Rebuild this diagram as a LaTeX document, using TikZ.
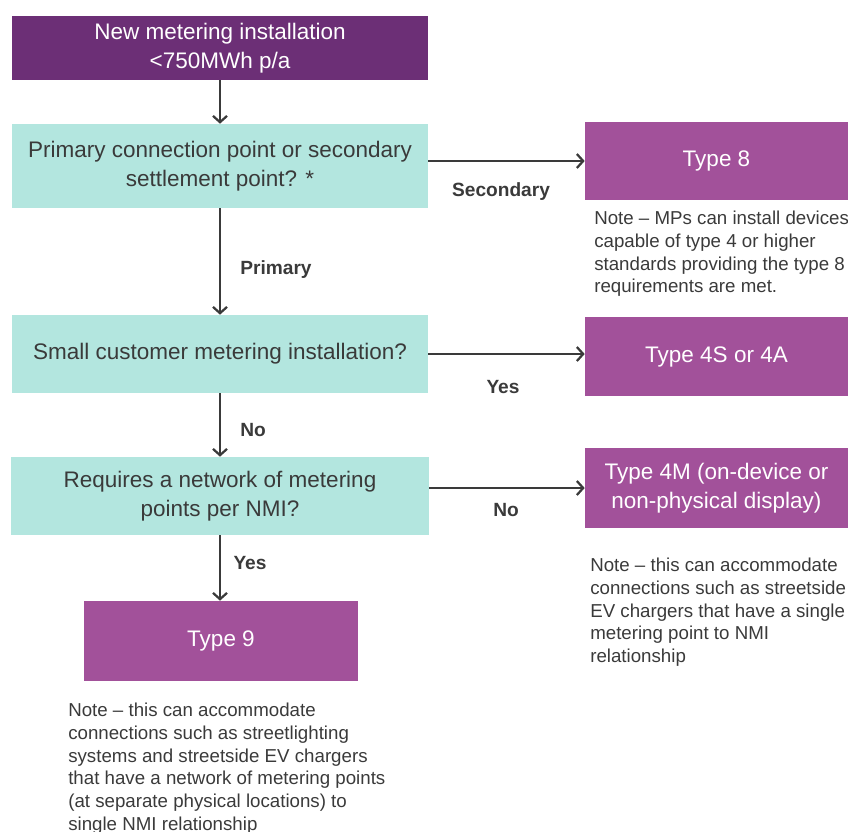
\documentclass[tikz,border=0pt]{standalone}
\usepackage{fontspec}
\setmainfont{Liberation Sans}
\usetikzlibrary{arrows.meta,positioning}
\definecolor{deeppurple}{HTML}{6C2F76}
\definecolor{midpurple}{HTML}{A2519A}
\definecolor{paleteal}{HTML}{B3E6DF}
\definecolor{inkgrey}{HTML}{3A3A3A}

\begin{document}
\begin{tikzpicture}[x=0.025cm,y=-0.025cm,
 question/.style={fill=paleteal,text=inkgrey,minimum width=10.4cm,minimum height=1.95cm,align=center,inner sep=2pt,font=\fontsize{16}{20.5}\selectfont},
 meter/.style={fill=midpurple,text=white,minimum width=6.575cm,minimum height=1.95cm,align=center,inner sep=2pt,font=\fontsize{16}{20.5}\selectfont},
 note/.style={anchor=north west,align=left,text=inkgrey,inner sep=0pt,font=\fontsize{13.3}{16.1}\selectfont},
 answer/.style={text=inkgrey,inner sep=0pt,font=\fontsize{13.6}{16}\selectfont\bfseries},
 flow/.style={draw=inkgrey,line width=1.6pt,-{Straight Barb[length=4.5pt,width=10pt]}}]
\useasboundingbox (0,0) rectangle (848,831);

% decision column
\node[question,fill=deeppurple,text=white,minimum height=1.575cm] (start) at (220,48) {New metering installation\\<750MWh p/a};
\node[question,minimum height=2.1cm] (q1) at (220,166) {Primary connection point or secondary\\settlement point? *};
\node[question] (q2) at (220,354) {Small customer metering installation?};
\node[question,minimum width=10.45cm] (q3) at (220,496) {Requires a network of metering\\points per NMI?};
\node[meter,minimum width=6.85cm,minimum height=2cm] (t9) at (221,641) {Type 9};

% meter types
\node[meter] (t8) at (716.5,161) {Type 8};
\node[meter,minimum height=1.975cm] (t4s) at (716.5,356.5) {Type 4S or 4A};
\node[meter,minimum height=2cm] (t4m) at (716.5,488) {Type 4M (on-device or\\non-physical display)};

% notes
\node[note] (n8) at (594,211) {Note -- MPs can install devices\\capable of type 4 or higher\\standards providing the type 8\\requirements are met.};
\node[note] (n4m) at (590,558) {Note -- this can accommodate\\connections such as streetside\\EV chargers that have a single\\metering point to NMI\\relationship};
\node[note] (n9) at (68,703) {Note -- this can accommodate\\connections such as streetlighting\\systems and streetside EV chargers\\that have a network of metering points\\(at separate physical locations) to\\single NMI relationship};

% connectors
\draw[flow] (start) -- (q1);
\draw[flow] (q1) -- (q2);
\draw[flow] (q2) -- (q3);
\draw[flow] (q3) -- (q3.south |- t9.north);
\draw[flow] (t8.west -| q1.east) -- (t8.west);
\draw[flow] (q2.east) -- (q2.east -| t4s.west);
\draw[flow] (t4m.west -| q3.east) -- (t4m.west);

% answers
\node[answer] (aSec) at (501,192) {Secondary};
\node[answer] (aPri) at (276,270) {Primary};
\node[answer] (aYes1) at (503,387) {Yes};
\node[answer] (aNo1) at (253,430) {No};
\node[answer] (aNo2) at (506,510) {No};
\node[answer] (aYes2) at (250,563) {Yes};
\end{tikzpicture}
\end{document}
